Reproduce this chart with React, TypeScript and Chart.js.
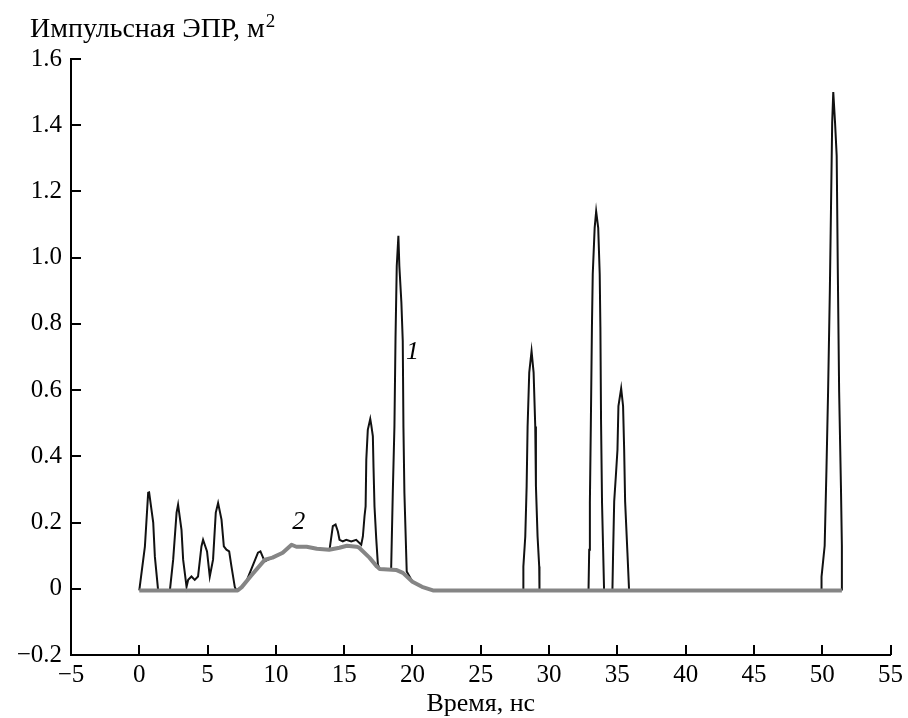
import React, { useEffect, useRef } from 'react';
import { Chart, registerables } from 'chart.js';

Chart.register(...registerables);

// Curve 1 (black): impulse RCS, time in ns
const curve1X = [
  0, 0.04, 0.41, 0.65, 0.72, 1.02, 1.14, 1.38,
  2.24, 2.48, 2.73, 2.84, 3.09, 3.21, 3.46, 3.58, 3.82, 4.06, 4.3, 4.55, 4.67, 4.96, 5.16, 5.4, 5.6, 5.77, 6.02, 6.19, 6.38, 6.58, 6.75, 6.99, 7.1,
  7.5, 7.84, 8.69, 8.87, 9.18, 9.75, 10.5, 11.15, 11.5, 12.25, 13.0, 13.93, 14.17, 14.37, 14.54, 14.66, 14.9, 15.15, 15.52, 15.88, 16.25,
  16.37, 16.49, 16.57, 16.62, 16.73, 16.91, 16.98, 17.1, 17.15, 17.22, 17.35, 17.47, 17.6, 18.44,
  18.56, 18.68, 18.76, 18.85, 18.97, 19.04, 19.19, 19.29, 19.34, 19.41, 19.58, 20.0, 20.7, 21.5,
  28.1, 28.12, 28.26, 28.36, 28.43, 28.55, 28.72, 28.87, 28.99, 29.04, 29.16, 29.28, 29.3,
  32.89, 32.94, 32.99, 33.06, 33.14, 33.2, 33.34, 33.45, 33.6, 33.71, 33.76, 33.81, 33.88, 33.96, 34.03,
  34.64, 34.69, 34.77, 34.89, 35.01, 35.08, 35.28, 35.42, 35.5, 35.57, 35.74, 35.86,
  49.93, 49.95, 50.05, 50.18, 50.31, 50.43, 50.56, 50.66, 50.73, 50.81, 50.94, 51.06, 51.14, 51.24, 51.37, 51.44, 51.44,
];
const curve1Y = [
  -0.005, -0.005, 0.127, 0.29, 0.291, 0.2, 0.097, -0.005,
  -0.005, 0.088, 0.23, 0.254, 0.178, 0.088, 0.006, 0.027, 0.037, 0.027, 0.037, 0.128, 0.148, 0.113, 0.037, 0.088, 0.23, 0.259, 0.209, 0.128, 0.118, 0.113, 0.067, 0.006, -0.005,
  0.005, 0.022, 0.109, 0.113, 0.083, 0.094, 0.109, 0.133, 0.127, 0.127, 0.121, 0.118, 0.189, 0.194, 0.173, 0.148, 0.143, 0.148, 0.143, 0.148, 0.133,
  0.158, 0.219, 0.249, 0.39, 0.48, 0.513, 0.496, 0.461, 0.365, 0.249, 0.15, 0.073, 0.06, 0.06,
  0.29, 0.49, 0.758, 0.975, 1.066, 0.975, 0.864, 0.748, 0.487, 0.29, 0.052, 0.021, 0.006, -0.005,
  -0.005, 0.067, 0.158, 0.31, 0.49, 0.653, 0.718, 0.653, 0.49, 0.31, 0.158, 0.067, -0.005,
  -0.005, 0.118, 0.259, 0.496, 0.79, 0.95, 1.09, 1.14, 1.09, 0.95, 0.79, 0.496, 0.259, 0.118, -0.005,
  -0.005, 0.108, 0.264, 0.34, 0.42, 0.552, 0.605, 0.552, 0.42, 0.264, 0.108, -0.005,
  -0.005, 0.036, 0.077, 0.13, 0.359, 0.594, 0.902, 1.2, 1.408, 1.5, 1.408, 1.308, 0.969, 0.594, 0.312, 0.13, -0.005,
];

// Curve 2 (grey)
const curve2X = [
  0, 7.2, 7.5, 8.2, 9.2, 9.75, 10.5, 11.15, 11.5, 12.25, 13.0, 13.9, 14.65, 15.2, 15.9, 16.1, 16.85, 17.4, 17.6, 18.8, 19.3, 20.0, 20.7, 21.5, 51.44,
];
const curve2Y = [
  -0.005, -0.005, 0.005, 0.04, 0.088, 0.094, 0.109, 0.133, 0.127, 0.127, 0.121, 0.118, 0.124, 0.13, 0.127, 0.124, 0.094, 0.067, 0.06, 0.057, 0.048, 0.021, 0.006, -0.005, -0.005,
];

const xTickValues = [-5, 0, 5, 10, 15, 20, 25, 30, 35, 40, 45, 50, 55];
const yTickValues = [-0.2, 0, 0.2, 0.4, 0.6, 0.8, 1.0, 1.2, 1.4, 1.6];

const xAxisTitle = 'Время, нс';
const yAxisTitle = 'Импульсная ЭПР, м';
const yAxisTitleSup = '2';

const curveLabels = ['1', '2'];
const curveLabelX = [20.0, 11.67];
const curveLabelY = [0.714, 0.2];

const FONT = '"Liberation Serif", "Times New Roman", serif';

const fmtX = (v: number) => (v < 0 ? '\u2212' + Math.abs(v) : String(v));
const fmtY = (v: number) => {
  const r = Math.round(v * 10) / 10;
  if (r === 0) return '0';
  return (r < 0 ? '\u2212' : '') + Math.abs(r).toFixed(1);
};

const decorPlugin = {
  id: 'decor',
  afterDraw(chart: any) {
    const { ctx, chartArea, scales } = chart;
    const xs = scales.x;
    const ys = scales.y;
    ctx.save();
    ctx.strokeStyle = '#000';
    ctx.lineWidth = 2;
    ctx.beginPath();
    xTickValues.forEach((v) => {
      if (v <= xs.min) return;
      const px = Math.round(xs.getPixelForValue(v));
      ctx.moveTo(px, chartArea.bottom);
      ctx.lineTo(px, chartArea.bottom - 10);
    });
    yTickValues.forEach((v) => {
      if (v <= ys.min) return;
      const py = Math.round(ys.getPixelForValue(v));
      ctx.moveTo(chartArea.left, py);
      ctx.lineTo(chartArea.left + 10, py);
    });
    ctx.stroke();

    ctx.fillStyle = '#000';
    ctx.textBaseline = 'middle';
    ctx.textAlign = 'center';
    ctx.font = 'italic 26px ' + FONT;
    curveLabels.forEach((t, i) => {
      ctx.fillText(t, xs.getPixelForValue(curveLabelX[i]), ys.getPixelForValue(curveLabelY[i]));
    });

    ctx.textAlign = 'left';
    ctx.textBaseline = 'alphabetic';
    ctx.font = '28px ' + FONT;
    ctx.fillText(yAxisTitle, 30, 37);
    const w = ctx.measureText(yAxisTitle).width;
    ctx.font = '19px ' + FONT;
    ctx.fillText(yAxisTitleSup, 30 + w + 1, 27);
    ctx.restore();
  },
};

export default function App() {
  const ref = useRef<HTMLCanvasElement | null>(null);
  useEffect(() => {
    if (!ref.current) return;
    const d1 = curve1X.map((x, i) => ({ x, y: curve1Y[i] }));
    const d2 = curve2X.map((x, i) => ({ x, y: curve2Y[i] }));
    const chart = new Chart(ref.current, {
      type: 'line',
      data: {
        datasets: [
          {
            label: '2',
            data: d2,
            borderColor: '#858585',
            borderWidth: 4,
            pointRadius: 0,
            tension: 0,
            order: 0,
            borderJoinStyle: 'round',
          },
          {
            label: '1',
            data: d1,
            borderColor: '#111',
            borderWidth: 2,
            pointRadius: 0,
            tension: 0,
            order: 1,
          },
        ],
      },
      options: {
        animation: false,
        responsive: false,
        devicePixelRatio: 1,
        layout: { padding: { left: 0, top: 59, right: 16, bottom: 0 } },
        plugins: { legend: { display: false }, tooltip: { enabled: false }, title: { display: false } },
        scales: {
          x: {
            type: 'linear',
            min: -5,
            max: 55,
            ticks: {
              stepSize: 5,
              autoSkip: false,
              maxRotation: 0,
              padding: 5,
              color: '#000',
              font: { family: FONT, size: 25 },
              callback: (v: any) => fmtX(Number(v)),
            },
            grid: { display: false, drawTicks: false },
            border: { display: true, color: '#000', width: 2 },
            title: { display: true, text: xAxisTitle, color: '#000', font: { family: FONT, size: 26 }, padding: { top: 0, bottom: -2 } },
            afterFit: (s: any) => { s.height = 63; },
          },
          y: {
            type: 'linear',
            min: -0.2,
            max: 1.6,
            ticks: {
              stepSize: 0.2,
              autoSkip: false,
              padding: 9,
              color: '#000',
              font: { family: FONT, size: 25 },
              callback: (v: any) => fmtY(Number(v)),
            },
            grid: { display: false, drawTicks: false },
            border: { display: true, color: '#000', width: 2 },
            afterFit: (s: any) => { s.width = 71; },
          },
        },
      },
      plugins: [decorPlugin],
    });
    return () => chart.destroy();
  }, []);
  return (
    <div style={{ position: 'fixed', left: 0, top: 0, width: 908, height: 718, background: '#fff' }}>
      <canvas ref={ref} width={908} height={718} style={{ width: 908, height: 718, display: 'block' }} />
    </div>
  );
}
